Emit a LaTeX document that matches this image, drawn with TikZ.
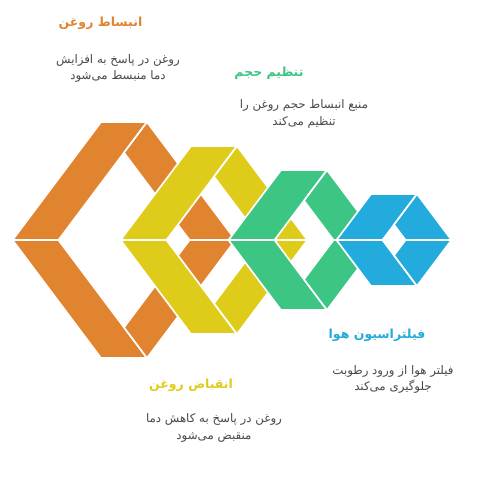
\documentclass[tikz,border=0pt]{standalone}
\usepackage{fontspec}
\newfontfamily\arabicfont[Script=Arabic]{DejaVu Sans}
\TeXXeTstate=1
\definecolor{corange}{HTML}{E08430}
\definecolor{cyellow}{HTML}{DFCC1A}
\definecolor{cgreen}{HTML}{3DC584}
\definecolor{cblue}{HTML}{22ABDC}
\definecolor{textgray}{HTML}{4A4A4A}
\def\kk{0.75}
\def\ff{23}
\newcommand\ringdraw[3]{%
  \pgfmathsetmacro\rcx{#1}%
  \pgfmathsetmacro\rkH{\kk*#2}%
  \pgfmathsetmacro\rwi{\kk*#2-\ff}%
  \pgfmathsetmacro\rhi{#2-\ff/\kk}%
  \coordinate (L) at (\rcx-\ff-\rkH,240);
  \coordinate (TL) at (\rcx-\ff,240-#2);
  \coordinate (TR) at (\rcx+\ff,240-#2);
  \coordinate (R) at (\rcx+\ff+\rkH,240);
  \coordinate (BR) at (\rcx+\ff,240+#2);
  \coordinate (BL) at (\rcx-\ff,240+#2);
  \coordinate (IL) at (\rcx-\rwi,240);
  \coordinate (IT) at (\rcx,240-\rhi);
  \coordinate (IR) at (\rcx+\rwi,240);
  \coordinate (IB) at (\rcx,240+\rhi);
  \filldraw[piece,fill=#3] (L) -- (TL) -- (TR) -- (IL) -- cycle;
  \filldraw[piece,fill=#3] (TR) -- (R) -- (IR) -- (IT) -- cycle;
  \filldraw[piece,fill=#3] (L) -- (BL) -- (BR) -- (IL) -- cycle;
  \filldraw[piece,fill=#3] (BR) -- (R) -- (IR) -- (IB) -- cycle;
}
\begin{document}
\begin{tikzpicture}[x=1pt,y=-1pt,
  piece/.style={draw=white,line width=1.7pt,line join=miter},
  ttl/.style={font=\arabicfont\bfseries\fontsize{12.5}{15}\selectfont,inner sep=0pt},
  dsc/.style={font=\arabicfont\fontsize{11.8}{16.5}\selectfont,text=textgray,align=center,inner sep=0pt}]
\useasboundingbox (0,0) rectangle (488,485);
\fill[white] (0,0) rectangle (488,485);
\ringdraw{124}{118}{corange}
\ringdraw{214}{94}{cyellow}
\ringdraw{304}{70}{cgreen}
\ringdraw{394}{46}{cblue}
\node[ttl,text=corange] (t1) at (100.5,23) {\beginR انبساط روغن\endR};
\node[dsc] (d1) at (118,68.5) {\beginR روغن در پاسخ به افزایش\endR\\\beginR دما منبسط می‌شود\endR};
\node[ttl,text=cgreen] (t2) at (269,73) {\beginR تنظیم حجم\endR};
\node[dsc] (d2) at (304,114) {\beginR منبع انبساط حجم روغن را\endR\\\beginR تنظیم می‌کند\endR};
\node[ttl,text=cblue] (t3) at (377,335) {\beginR فیلتراسیون هوا\endR};
\node[dsc] (d3) at (393,379.5) {\beginR فیلتر هوا از ورود رطوبت\endR\\\beginR جلوگیری می‌کند\endR};
\node[ttl,text=cyellow] (t4) at (191,385) {\beginR انقباض روغن\endR};
\node[dsc] (d4) at (214,428) {\beginR روغن در پاسخ به کاهش دما\endR\\\beginR منقبض می‌شود\endR};
\end{tikzpicture}
\end{document}
